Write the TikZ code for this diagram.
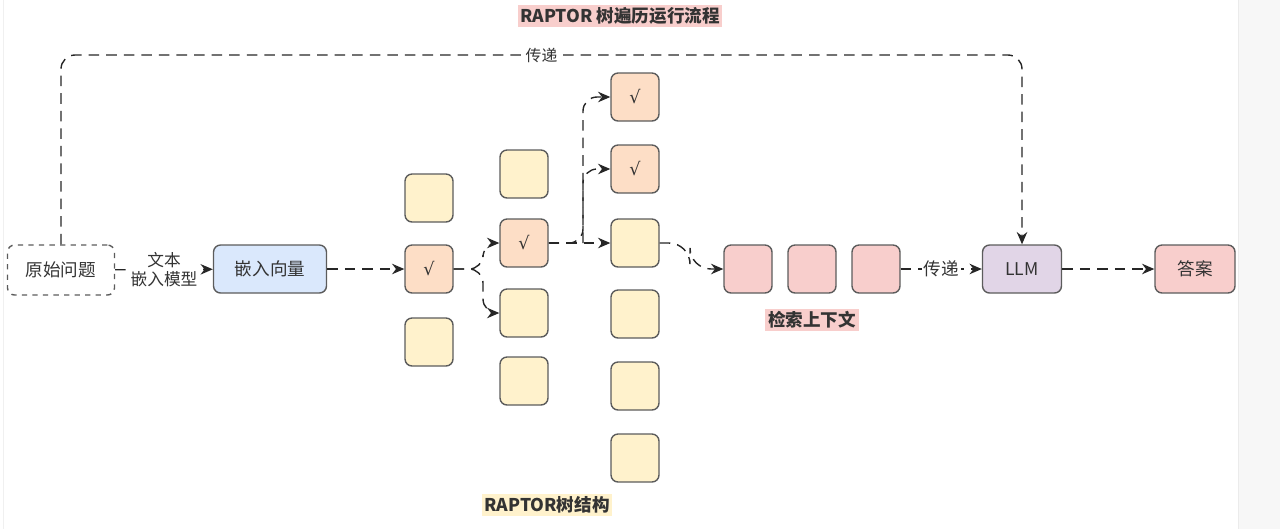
\documentclass[tikz,border=0pt]{standalone}
\usepackage{fontspec}
\setmainfont{Noto Sans CJK SC}
\newfontfamily\symfont{DejaVu Sans}
\usetikzlibrary{arrows.meta}
\definecolor{ylw}{HTML}{FFF2CC}
\definecolor{peach}{HTML}{FDDEC6}
\definecolor{pnk}{HTML}{F8CECC}
\definecolor{blu}{HTML}{DAE8FC}
\definecolor{prp}{HTML}{E1D5E7}
\definecolor{edge}{HTML}{5C5C5C}
\definecolor{txt}{HTML}{333333}
\newcommand{\tick}{{\symfont √}}
\tikzset{
	box/.style={draw=edge, line width=0.8pt, rounded corners=4pt, minimum width=0.96cm, minimum height=0.96cm, inner sep=0pt, text=txt},
	ybox/.style={box, fill=ylw},
	pbox/.style={box, fill=peach},
	rbox/.style={box, fill=pnk},
	wide/.style={box, minimum width=#1},
	flow/.style={draw=black!85, line width=0.8pt, dash pattern=on 6pt off 4pt, -{Stealth[length=7pt,width=6pt]}},
	lbl/.style={fill=white, text=txt, inner sep=1pt},
	hl/.style={fill=#1, text=txt, font=\fontsize{10}{12}\selectfont\bfseries, inner sep=1.5pt}
}
\begin{document}
\begin{tikzpicture}[x=0.02cm, y=-0.02cm, font=\fontsize{10}{12}\selectfont]
	\useasboundingbox (0,0) rectangle (1280,529);
	\fill[black!3] (1238,0) rectangle (1280,529);
	\draw[black!8] (1238,0) -- (1238,529);
	\draw[black!6] (3,0) -- (3,529);

	\node[hl=pnk] (title) at (620,16) {RAPTOR 树遍历运行流程};

	\node[wide=2.14cm, minimum height=1cm, fill=white, dashed] (q) at (61,270) {原始问题};
	\node[wide=2.26cm, fill=blu] (emb) at (270,269) {嵌入向量};

	% tree columns
	\node[ybox] (c1a) at (429,198) {};
	\node[pbox] (c1b) at (429,269) {\tick};
	\node[ybox] (c1c) at (429,342) {};

	\node[ybox] (c2a) at (524,174) {};
	\node[pbox] (c2b) at (524,243) {\tick};
	\node[ybox] (c2c) at (524,313) {};
	\node[ybox] (c2d) at (524,381) {};

	\node[pbox] (c3a) at (635,97) {\tick};
	\node[pbox] (c3b) at (635,169) {\tick};
	\node[ybox] (c3c) at (635,243) {};
	\node[ybox] (c3d) at (635,314) {};
	\node[ybox] (c3e) at (635,386) {};
	\node[ybox] (c3f) at (635,458) {};

	\node[hl=ylw] (tree) at (547,505) {RAPTOR树结构};

	% context
	\node[rbox] (r1) at (748,269) {};
	\node[rbox] (r2) at (812,269) {};
	\node[rbox] (r3) at (876,269) {};
	\node[hl=pnk] (ctx) at (812,320) {检索上下文};

	\node[wide=1.58cm, fill=prp] (llm) at (1022,269) {LLM};
	\node[wide=1.6cm, fill=pnk] (ans) at (1195,269) {答案};

	\coordinate (s1) at (483,269);
	\coordinate (s2) at (583,243);
	\coordinate (s3) at (690,243);
	\coordinate (top) at (540,55);

	\draw[flow] (q) -- node[lbl, align=center, font=\fontsize{9.5}{10.5}\selectfont]{文本\\嵌入模型} (emb);
	\draw[flow] (emb) -- (c1b);
	\draw[flow, rounded corners=8] (c1b.east) -- (s1) |- (c2b.west);
	\draw[flow, rounded corners=8] (c1b.east) -- (s1) |- (c2c.west);
	\draw[flow] (c2b) -- (c3c);
	\draw[flow, rounded corners=8] (c2b.east) -- (s2) |- (c3a.west);
	\draw[flow, rounded corners=8] (s2) |- (c3b.west);
	\draw[flow, rounded corners=12] (c3c.east) -- (s3) |- (r1.west);
	\draw[flow] (r3) -- node[lbl]{传递} (llm);
	\draw[flow] (llm) -- (ans);
	\draw[flow, rounded corners=8] (q.north) -- (q.north |- top) -- node[lbl, font=\fontsize{9}{10}\selectfont]{传递} (llm.north |- top) -- (llm.north);
\end{tikzpicture}
\end{document}
